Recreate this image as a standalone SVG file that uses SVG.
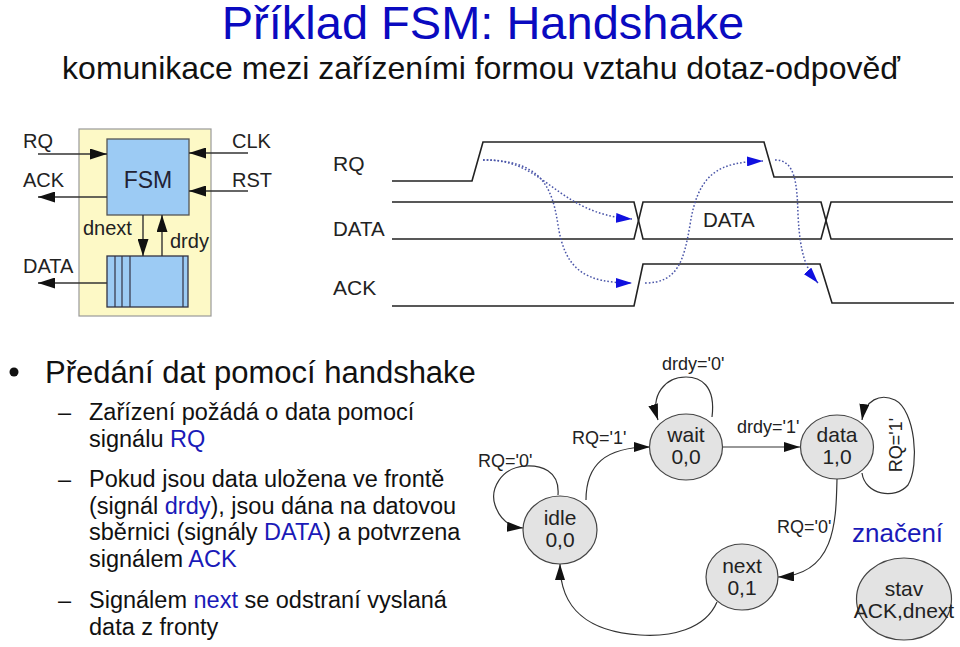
<svg xmlns="http://www.w3.org/2000/svg" width="960" height="647" viewBox="0 0 960 647">
<style>
text{font-family:"Liberation Sans",Arial,sans-serif;}
.t{fill:#111;}
.b{fill:#1a1ab8;}
.sig{stroke:#222;stroke-width:1.6;fill:none;}
.dot{stroke:#4a55a8;stroke-width:1.5;fill:none;stroke-dasharray:1.6,2;marker-end:url(#ba);}
.e{stroke:#333;stroke-width:1.2;fill:none;marker-end:url(#fa);}
.bl{stroke:#333;stroke-width:1.4;fill:none;}
.node{fill:#e3e3e3;stroke:#444;stroke-width:1.2;}
.nt{font-size:21px;fill:#222;text-anchor:middle;}
.lb{font-size:18px;fill:#222;}
.bd{font-size:20px;fill:#222;}
</style>
<defs>
<marker id="ab" markerUnits="userSpaceOnUse" markerWidth="17" markerHeight="11" refX="17" refY="5.5" orient="auto"><path d="M0,0 L17,5.5 L0,11 z" fill="#111"/></marker>
<marker id="fa" markerUnits="userSpaceOnUse" markerWidth="16" markerHeight="10" refX="16" refY="5" orient="auto"><path d="M0,0 L16,5 L0,10 z" fill="#111"/></marker>
<marker id="ba" markerUnits="userSpaceOnUse" markerWidth="16" markerHeight="10" refX="16" refY="5" orient="auto"><path d="M0,0 L16,5 L0,10 z" fill="#1010e0"/></marker>
</defs>
<rect width="960" height="647" fill="#fff"/>

<g id="title">
<text x="483" y="39" font-size="47" fill="#0a0ac0" text-anchor="middle">Příklad FSM: Handshake</text>
<text x="481" y="79" font-size="32" class="t" text-anchor="middle">komunikace mezi zařízeními formou vztahu dotaz-odpověď</text>
</g>

<g id="block">
<rect x="79" y="129" width="132" height="187" fill="#fdf9c6" stroke="#999" stroke-width="1.2"/>
<g id="fsm">
<rect x="107" y="139" width="82" height="76" fill="#9ccbf4" stroke="#555" stroke-width="1.3"/>
<text x="148" y="188" font-size="23" fill="#223" text-anchor="middle">FSM</text>
</g>
<g id="queue">
<rect x="107" y="256" width="81" height="51" fill="#9ccbf4" stroke="#334" stroke-width="1.3"/>
<path d="M115,256V307M122,256V307M130,256V307M183,256V307" stroke="#334" stroke-width="1.2"/>
</g>
<g id="block-arrows">
<line x1="38" y1="154" x2="107" y2="154" class="bl" marker-end="url(#ab)"/>
<line x1="107" y1="197" x2="38" y2="197" class="bl" marker-end="url(#ab)"/>
<line x1="248" y1="153" x2="189" y2="153" class="bl" marker-end="url(#ab)"/>
<line x1="248" y1="191" x2="189" y2="191" class="bl" marker-end="url(#ab)"/>
<line x1="143" y1="215" x2="143" y2="256" class="bl" marker-end="url(#ab)"/>
<line x1="162" y1="256" x2="162" y2="215" class="bl" marker-end="url(#ab)"/>
<line x1="107" y1="283" x2="38" y2="283" class="bl" marker-end="url(#ab)"/>
</g>
<text x="23" y="148" class="bd">RQ</text>
<text x="23" y="187" class="bd">ACK</text>
<text x="232" y="148" class="bd">CLK</text>
<text x="232" y="187" class="bd">RST</text>
<text x="83" y="235" class="bd">dnext</text>
<text x="170" y="248" class="bd">drdy</text>
<text x="23" y="273" class="bd">DATA</text>
</g>

<g id="timing">
<text x="333" y="171" font-size="21" fill="#222">RQ</text>
<text x="333" y="236" font-size="20.5" fill="#222">DATA</text>
<text x="333" y="295" font-size="21" fill="#222">ACK</text>
<path class="sig" d="M392,181 H472 L483,142 H764 L774,177 H953"/>
<path class="sig" d="M392,202 H634 L643,239 H821 L831,202 H953"/>
<path class="sig" d="M392,239 H634 L643,202 H821 L831,239 H953"/>
<path class="sig" d="M392,306 H634 L643,264 H820 L832,303 H954"/>
<text x="703" y="227" font-size="20.5" fill="#222">DATA</text>
<g id="timing-connectors">
<path class="dot" d="M483,160 C545,158 556,214 632,219"/>
<path class="dot" d="M483,160 C540,160 552,185 558,225 C565,270 585,283 632,283"/>
<path class="dot" d="M645,283 C678,283 684,260 690,225 C698,172 720,162 763,161"/>
<path class="dot" d="M775,160 C795,160 797,182 798,215 C800,252 805,268 818,283"/>
</g>
</g>

<g id="text-body">
<circle cx="14" cy="372" r="4.5" fill="#111"/>
<text x="45" y="383" font-size="31" class="t">Předání dat pomocí handshake</text>
<g font-size="23.5">
<text x="58" y="420" class="t">–</text>
<text x="89" y="420" class="t">Zařízení požádá o data pomocí</text>
<text x="89" y="447" class="t">signálu <tspan class="b">RQ</tspan></text>
<text x="58" y="487" class="t">–</text>
<text x="89" y="487" class="t">Pokud jsou data uložena ve frontě</text>
<text x="89" y="514" class="t">(signál <tspan class="b">drdy</tspan>), jsou dána na datovou</text>
<text x="89" y="540" class="t">sběrnici (signály <tspan class="b">DATA</tspan>) a potvrzena</text>
<text x="89" y="567" class="t">signálem <tspan class="b">ACK</tspan></text>
<text x="58" y="608" class="t">–</text>
<text x="89" y="608" class="t">Signálem <tspan class="b">next</tspan> se odstraní vyslaná</text>
<text x="89" y="635" class="t">data z fronty</text>
</g>
</g>

<g id="fsm-connectors">
<path class="e" d="M712,417 C716,385 700,377 686,377 C665,377 650,395 658,420"/>
<path class="e" d="M586,500 C586,465 605,447 650,447"/>
<path class="e" d="M558,495 C560,470 540,465 525,466 C500,468 490,490 495,505 C500,520 510,527 523,528"/>
<path class="e" d="M723,447 H800"/>
<path class="e" d="M862,473 C865,495 895,500 908,485 C920,465 915,410 895,400 C880,393 865,400 862,420"/>
<path class="e" d="M837,479 C836,520 836,575 778,577"/>
<path class="e" d="M717,602 C705,630 670,637 640,635 C590,632 560,610 560,564"/>
</g>
<g id="fsm-labels">
<text x="662" y="370" class="lb">drdy='0'</text>
<text x="572" y="444" class="lb">RQ='1'</text>
<text x="478" y="467" class="lb">RQ='0'</text>
<text x="737" y="433" class="lb">drdy='1'</text>
<text transform="translate(902,445) rotate(-90)" class="lb" text-anchor="middle">RQ='1'</text>
<text x="777" y="533" class="lb">RQ='0'</text>
</g>
<g id="s-wait"><ellipse class="node" cx="686" cy="447" rx="36.5" ry="33"/><text x="686" y="442" class="nt">wait</text><text x="686" y="464" class="nt" font-size="20">0,0</text></g>
<g id="s-data"><ellipse class="node" cx="837" cy="447" rx="36.5" ry="32"/><text x="837" y="442" class="nt">data</text><text x="837" y="464" class="nt" font-size="20">1,0</text></g>
<g id="s-idle"><ellipse class="node" cx="560" cy="530" rx="37" ry="34"/><text x="560" y="525" class="nt">idle</text><text x="560" y="547" class="nt" font-size="20">0,0</text></g>
<g id="s-next"><ellipse class="node" cx="742" cy="577" rx="36" ry="33"/><text x="742" y="573" class="nt">next</text><text x="742" y="595" class="nt" font-size="20">0,1</text></g>
<g id="legend">
<text x="852" y="542" font-size="26" class="b">značení</text>
<ellipse class="node" cx="904" cy="599" rx="47.5" ry="41"/>
<text x="904" y="596" class="nt" font-size="19">stav</text>
<text x="904" y="618" class="nt" font-size="17.5">ACK,dnext</text>
</g>
</svg>
